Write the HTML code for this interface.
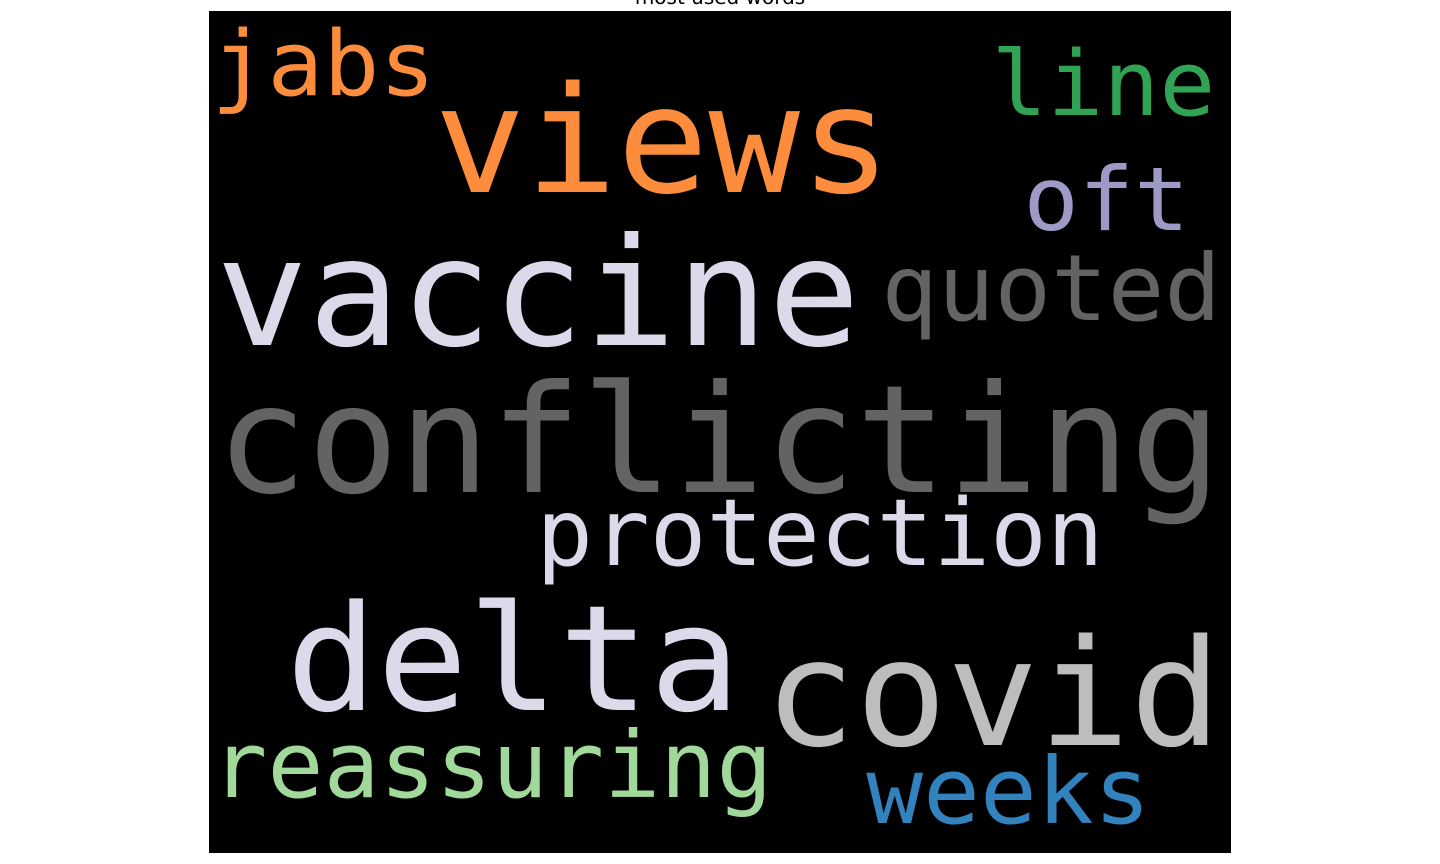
<!DOCTYPE html>
<html><head><meta charset="utf-8"><style>
html,body{margin:0;padding:0;background:#fff;width:1440px;height:864px;overflow:hidden}
svg{display:block}
</style></head><body>
<svg width="1440" height="864">
<text x="720" y="4" text-anchor="middle" font-family="DejaVu Sans, sans-serif" font-size="20" fill="#000">most used words</text>
<rect x="209" y="11" width="1022" height="842" fill="#000"/>
<g id="words"></g>
</svg>
<script>
const words = ["jabs","views","line","oft","vaccine","quoted","conflicting","protection","delta","covid","reassuring","weeks"];
const sizes = [90,148,90,88,150,92,150,93,147,148,92,92];
const xs = [215,440,995,1027,222,885,222,540,292,770,215,870];
const ys = [95,192,115,230,345,320,492,565,710,745,797,823];
const colors = ["#fd8d3c","#fd8d3c","#31a354","#9e9ac8","#dadaeb","#636363","#636363","#dadaeb","#dadaeb","#bdbdbd","#a1d99b","#3182bd"];
const g = document.getElementById('words');
const NS = "http://www.w3.org/2000/svg";
words.forEach((w,i)=>{
  const t = document.createElementNS(NS,'text');
  const fs = sizes[i];
  t.setAttribute('x', xs[i] - fs*0.04);
  t.setAttribute('y', ys[i]);
  t.setAttribute('font-size', fs);
  t.setAttribute('font-family', 'DejaVu Sans Mono, Liberation Mono, monospace');
  t.setAttribute('fill', colors[i]);
  t.setAttribute('textLength', fs*(0.602*w.length + 0.08));
  t.setAttribute('lengthAdjust', 'spacingAndGlyphs');
  t.textContent = w;
  
  
  g.appendChild(t);
});
</script>
</body></html>
